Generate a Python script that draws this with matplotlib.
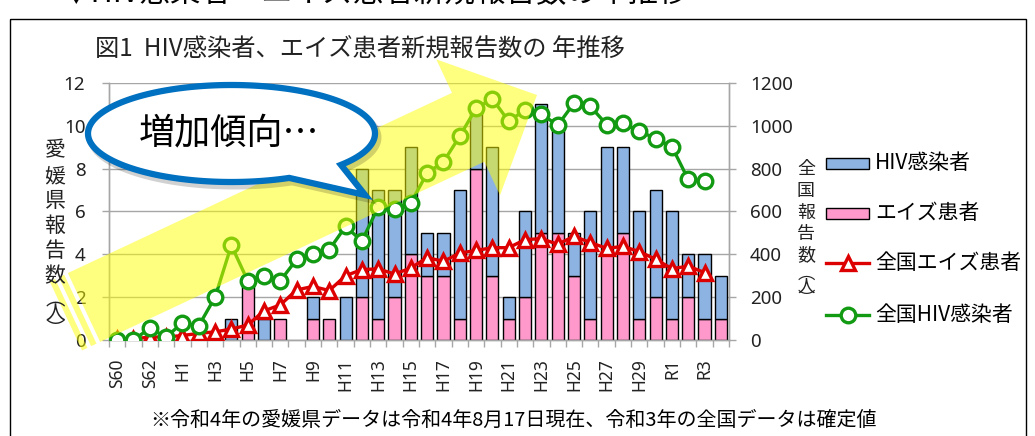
import numpy as np
import matplotlib
matplotlib.use("Agg")
import matplotlib.pyplot as plt
from matplotlib.patches import Polygon, Rectangle
from matplotlib.lines import Line2D

plt.rcParams['font.family'] = ['Noto Sans CJK JP', 'DejaVu Sans']

categories = ['S60', 'S61', 'S62', 'S63', 'H1', 'H2', 'H3', 'H4', 'H5', 'H6',
              'H7', 'H8', 'H9', 'H10', 'H11', 'H12', 'H13', 'H14', 'H15', 'H16',
              'H17', 'H18', 'H19', 'H20', 'H21', 'H22', 'H23', 'H24', 'H25', 'H26',
              'H27', 'H28', 'H29', 'H30', 'R1', 'R2', 'R3', 'R4']
# Ehime prefecture (left axis)
ehime_hiv = [0, 0, 0, 0, 0, 0, 0, 1, 0, 1, 0, 0, 1, 0, 2, 6, 6, 5, 5, 2,
             2, 6, 3, 6, 1, 4, 6, 5, 2, 5, 5, 4, 5, 5, 5, 2, 3, 2]
ehime_aids = [0, 0, 0, 0, 0, 0, 0, 0, 3, 0, 1, 0, 1, 1, 0, 2, 1, 2, 4, 3,
              3, 1, 8, 3, 1, 2, 5, 5, 3, 1, 4, 5, 1, 2, 1, 2, 1, 1]
# National (right axis), S60..R3
nat_hiv = [0, 0, 55, 14, 80, 66, 200, 442, 277, 298, 277, 376, 400, 422, 530,
           462, 621, 614, 640, 780, 832, 952, 1082, 1126, 1021, 1075, 1056,
           1002, 1106, 1091, 1006, 1011, 976, 940, 903, 750, 742]
nat_aids = [6, 5, 14, 14, 21, 31, 38, 51, 70, 136, 164, 234, 250, 231, 300,
            329, 332, 308, 336, 385, 367, 406, 418, 431, 431, 469, 473, 447,
            484, 455, 428, 437, 413, 377, 333, 345, 315]

W, H = 1035, 436
fig = plt.figure(figsize=(W / 100, H / 100), dpi=100)
fig.patch.set_facecolor('white')

L, R, T, B = 109, 729, 83, 340
ax = fig.add_axes([L / W, 1 - B / H, (R - L) / W, (B - T) / H])
ax2 = ax.twinx()

x = np.arange(len(categories))
hiv = np.array(ehime_hiv)
aids = np.array(ehime_aids)
blue = '#8db3e2'
pink = '#ff99cc'
bw = 0.74
m = aids > 0
ax.bar(x[m], aids[m], width=bw, color=pink, edgecolor='black', linewidth=1, zorder=3)
m = hiv > 0
ax.bar(x[m], hiv[m], bottom=aids[m], width=bw, color=blue, edgecolor='black', linewidth=1, zorder=3)

xn = x[:len(nat_hiv)]
red = '#dd0000'
green = '#129a12'
ax2.plot(xn, nat_aids, color=red, lw=2.4, marker='^', ms=9.5, mfc='white', mec=red, mew=2.4, zorder=4)
ax2.plot(xn, nat_hiv, color=green, lw=2.4, marker='o', ms=10.5, mfc='white', mec=green, mew=2.4, zorder=5)

ax.set_xlim(-0.5, len(categories) - 0.5)
ax.set_ylim(0, 12)
ax2.set_ylim(0, 1200)
ax.set_yticks(range(0, 13, 2))
ax2.set_yticks(range(0, 1201, 200))
ax.yaxis.grid(True, color='#a6a6a6', lw=1)
ax.set_axisbelow(True)

gray = '#a6a6a6'
for a in (ax, ax2):
    a.spines['top'].set_visible(False)
    for s in ('left', 'right', 'bottom'):
        a.spines[s].set_color(gray)
        a.spines[s].set_linewidth(1)
ax.set_xticks(x[::2])
ax.set_xticklabels(categories[::2], rotation=90, fontsize=12.5, color='#222222',
                   family=['Noto Sans', 'DejaVu Sans'])
ax.set_xticks(np.arange(-0.5, len(categories), 1), minor=True)
ax.tick_params(axis='x', which='major', length=0, pad=13)
ax.tick_params(axis='x', which='minor', length=5, color=gray, width=1)
ax.tick_params(axis='y', length=5, color=gray, width=1, pad=12, labelsize=13.5, labelcolor='#222222')
ax2.tick_params(axis='y', length=5, color=gray, width=1, pad=10, labelsize=13.5, labelcolor='#222222')
for lab in ax.get_yticklabels() + ax2.get_yticklabels():
    lab.set_family(['Noto Sans', 'DejaVu Sans'])

# overlay in pixel coordinates
ov = fig.add_axes([0, 0, 1, 1], zorder=10)
ov.set_xlim(0, W)
ov.set_ylim(H, 0)
ov.axis('off')
ov.patch.set_alpha(0)

# frame
ov.add_patch(Rectangle((10, 19), 1016, 440, fill=False, ec='black', lw=1))

# clipped header
ov.text(60, -6, '▼HIV感染者・エイズ患者新規報告数の年推移', fontsize=22, va='center', ha='left', color='black')
# title
ov.text(95, 50, '図1  HIV感染者、エイズ患者新規報告数の 年推移', fontsize=17.5, va='center', ha='left', color='#222222')
# footnote
ov.text(150, 420, '※令和4年の愛媛県データは令和4年8月17日現在、令和3年の全国データは確定値',
        fontsize=14.4, va='center', ha='left', color='black')

# axis labels (vertical stacked)
left_chars = ['愛', '媛', '県', '報', '告', '数']
left_y = [150, 176, 201, 226, 251, 276]
for c, yy in zip(left_chars, left_y):
    ov.text(55, yy, c, fontsize=15, ha='center', va='center', color='#222222')
ov.text(55, 289, '︵\n人\n︶', fontsize=14, ha='center', va='top', linespacing=0.62, color='#222222')
right_chars = ['全', '国', '報', '告', '数']
right_y = [169, 191, 213, 234, 255]
for c, yy in zip(right_chars, right_y):
    ov.text(806, yy, c, fontsize=13, ha='center', va='center', color='#222222')
ov.text(806, 265, '︵\n人\n︶', fontsize=12.5, ha='center', va='top', linespacing=0.62, color='#222222')

# yellow striped arrow
o = np.array([84.0, 307.5])
d = np.array([0.906, -0.425])
n = np.array([0.425, 0.906])
def tp(pts):
    return [tuple(o + u * d + v * n) for u, v in pts]
body = [(0, -38), (424, -38), (424, -75), (500, 0), (424, 75), (424, 38), (0, 38)]
ov.add_patch(Polygon(tp(body), closed=True, fc=(1, 1, 0, 0.5), ec='none', zorder=1))
for u0, u1 in [(-10, -4), (-20, -14)]:
    ov.add_patch(Polygon(tp([(u0, -38), (u1, -38), (u1, 38), (u0, 38)]), closed=True,
                         fc=(1, 1, 0, 0.5), ec='none', zorder=1))

# speech bubble
cx, cy, a_, b_ = 231.5, 133.5, 143.5, 48.5
t1, t2 = np.deg2rad(40.3), np.deg2rad(66.3)
th = np.linspace(t2, t1 + 2 * np.pi, 300)
pts = [(cx + a_ * np.cos(t), cy + b_ * np.sin(t)) for t in th] + [(365, 195)]
shadow = [(px + 3, py + 4) for px, py in pts]
ov.add_patch(Polygon(shadow, closed=True, fc='none', ec=(0, 0, 0, 0.18), lw=5, zorder=2, joinstyle='miter'))
ov.add_patch(Polygon(pts, closed=True, fc='white', ec='#0070c0', lw=4.5, zorder=3, joinstyle='miter'))
ov.text(139, 133, '増加傾向…', fontsize=26, ha='left', va='center', color='black', zorder=4)

# legend
lx0, lx1 = 826, 869
ov.add_patch(Rectangle((lx0, 158), lx1 - lx0, 11, fc=blue, ec='black', lw=1))
ov.text(875, 163, 'HIV感染者', fontsize=15, va='center', ha='left', color='black')
ov.add_patch(Rectangle((lx0, 208), lx1 - lx0, 11, fc=pink, ec='black', lw=1))
ov.text(875, 213, 'エイズ患者', fontsize=15, va='center', ha='left', color='black')
ov.add_line(Line2D([lx0, lx1], [263, 263], color=red, lw=2.4))
ov.add_line(Line2D([(lx0 + lx1) / 2], [263], color=red, marker='^', ms=9.5, mfc='white', mec=red, mew=2.4))
ov.text(875, 263, '全国エイズ患者', fontsize=15, va='center', ha='left', color='black')
ov.add_line(Line2D([lx0, lx1], [315, 315], color=green, lw=2.4))
ov.add_line(Line2D([(lx0 + lx1) / 2], [315], color=green, marker='o', ms=10.5, mfc='white', mec=green, mew=2.4))
ov.text(875, 315, '全国HIV感染者', fontsize=15, va='center', ha='left', color='black')

fig.savefig('out.png', dpi=100)
